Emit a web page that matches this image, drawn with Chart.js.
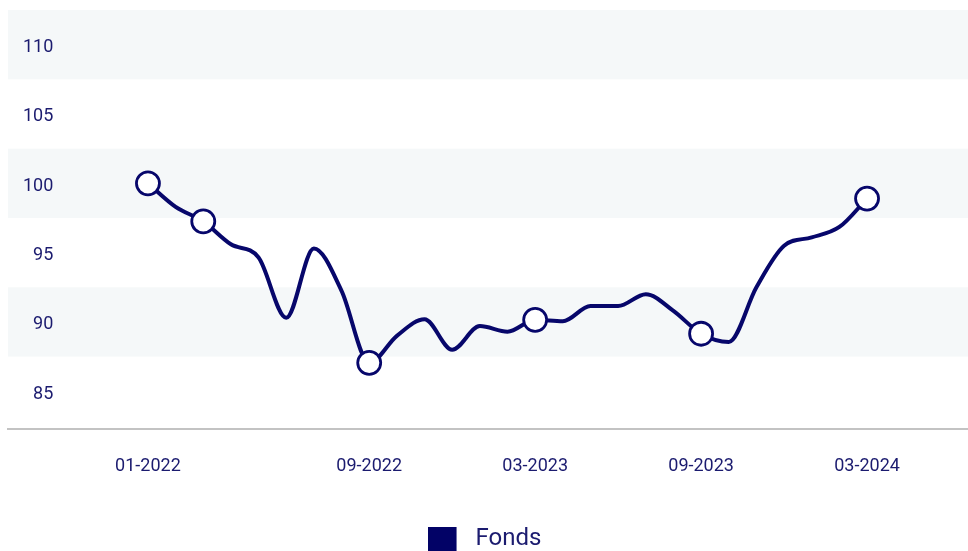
<!DOCTYPE html>
<html lang="en">
<head>
    <meta charset="UTF-8">
    <title>Fonds</title>
    <script src="https://cdn.jsdelivr.net/npm/chart.js"></script>
    <style>
        html, body { margin: 0; padding: 0; background: #fff; overflow: hidden; }
        #wrap { width: 968px; height: 561px; position: relative; }
    </style>
</head>
<body>
    <div id="wrap">
        <canvas id="lineChart"></canvas>
    </div>

    <script>
        // monthly values, 01-2022 .. 03-2024
        const months = [
            '01-2022', '02-2022', '03-2022', '04-2022', '05-2022', '06-2022',
            '07-2022', '08-2022', '09-2022', '10-2022', '11-2022', '12-2022',
            '01-2023', '02-2023', '03-2023', '04-2023', '05-2023', '06-2023',
            '07-2023', '08-2023', '09-2023', '10-2023', '11-2023', '12-2023',
            '01-2024', '02-2024', '03-2024'
        ];
        const fondsValues = [
            100.0, 98.3, 97.25, 95.6, 94.65, 90.3, 95.3, 92.25, 87.05,
            89.0, 90.2, 88.0, 89.7, 89.3, 90.15, 90.05, 91.15, 91.15,
            92.0, 90.8, 89.15, 88.55, 92.5, 95.5, 96.1, 96.85, 98.9
        ];
        const tickMonths = ['01-2022', '09-2022', '03-2023', '09-2023', '03-2024'];
        const markedMonths = ['01-2022', '03-2022', '09-2022', '03-2023', '09-2023', '03-2024'];
        const yTicks = [85, 90, 95, 100, 105, 110];
        const bandTicks = [90, 100, 110];

        const navy = '#07076b';
        const labelColor = '#1b1b6f';

        // light stripes behind every other y tick
        const bandsPlugin = {
            id: 'bands',
            beforeDraw(chart) {
                const { ctx, chartArea, scales } = chart;
                ctx.save();
                ctx.fillStyle = '#f5f8f9';
                bandTicks.forEach(v => {
                    const top = scales.y.getPixelForValue(v + 2.5);
                    const bottom = scales.y.getPixelForValue(v - 2.5);
                    ctx.fillRect(chartArea.left, top, chartArea.right - chartArea.left, bottom - top);
                });
                ctx.restore();
            }
        };

        // legend square (extra transparent room on the right = gap before the text)
        const legendBox = document.createElement('canvas');
        legendBox.width = 43;
        legendBox.height = 24;
        const lctx = legendBox.getContext('2d');
        lctx.fillStyle = '#020266';
        lctx.fillRect(0, 0, 29, 24);

        const noPadding = scale => {
            scale.paddingTop = 0;
            scale.paddingBottom = 0;
            scale.paddingLeft = 0;
            scale.paddingRight = 0;
        };

        const points = fondsValues.map((v, i) => ({ x: i, y: v }));
        const radii = months.map(m => markedMonths.includes(m) ? 11.5 : 0);

        const config = {
            type: 'line',
            data: {
                datasets: [{
                    label: 'Fonds',
                    data: points,
                    borderColor: navy,
                    backgroundColor: navy,
                    borderWidth: 4,
                    cubicInterpolationMode: 'monotone',
                    pointRadius: radii,
                    pointHoverRadius: radii,
                    pointBackgroundColor: '#ffffff',
                    pointBorderColor: navy,
                    pointBorderWidth: 2.8,
                    fill: false
                }]
            },
            options: {
                responsive: true,
                maintainAspectRatio: false,
                animation: false,
                layout: { autoPadding: false, padding: { left: 8, top: 10, right: 0, bottom: 0 } },
                scales: {
                    x: {
                        type: 'linear',
                        min: -5.06,
                        max: 29.65,
                        afterBuildTicks: scale => {
                            scale.ticks = tickMonths.map(m => ({ value: months.indexOf(m) }));
                        },
                        afterFit: noPadding,
                        grid: { display: false, drawTicks: false },
                        border: { display: true, color: '#c3c3c3', width: 2 },
                        ticks: {
                            padding: 26,
                            color: labelColor,
                            font: { family: 'Roboto', size: 18 },
                            maxRotation: 0,
                            callback: value => months[value]
                        }
                    },
                    y: {
                        min: 82.25,
                        max: 112.5,
                        afterBuildTicks: scale => {
                            scale.ticks = yTicks.map(v => ({ value: v }));
                        },
                        afterFit: scale => {
                            noPadding(scale);
                            scale.width = 0;
                        },
                        grid: { display: false, drawTicks: false },
                        border: { display: false },
                        ticks: {
                            mirror: true,
                            crossAlign: 'far',
                            padding: 15,
                            labelOffset: 3,
                            color: labelColor,
                            font: { family: 'Roboto', size: 18 }
                        }
                    }
                },
                plugins: {
                    tooltip: { enabled: false },
                    legend: {
                        position: 'bottom',
                        labels: {
                            usePointStyle: true,
                            pointStyle: legendBox,
                            pointStyleWidth: 29,
                            boxHeight: 24,
                            padding: 24,
                            color: labelColor,
                            font: { family: 'Roboto', size: 24 }
                        }
                    }
                }
            },
            plugins: [bandsPlugin]
        };

        const ctx = document.getElementById('lineChart').getContext('2d');
        new Chart(ctx, config);
    </script>
</body>
</html>
